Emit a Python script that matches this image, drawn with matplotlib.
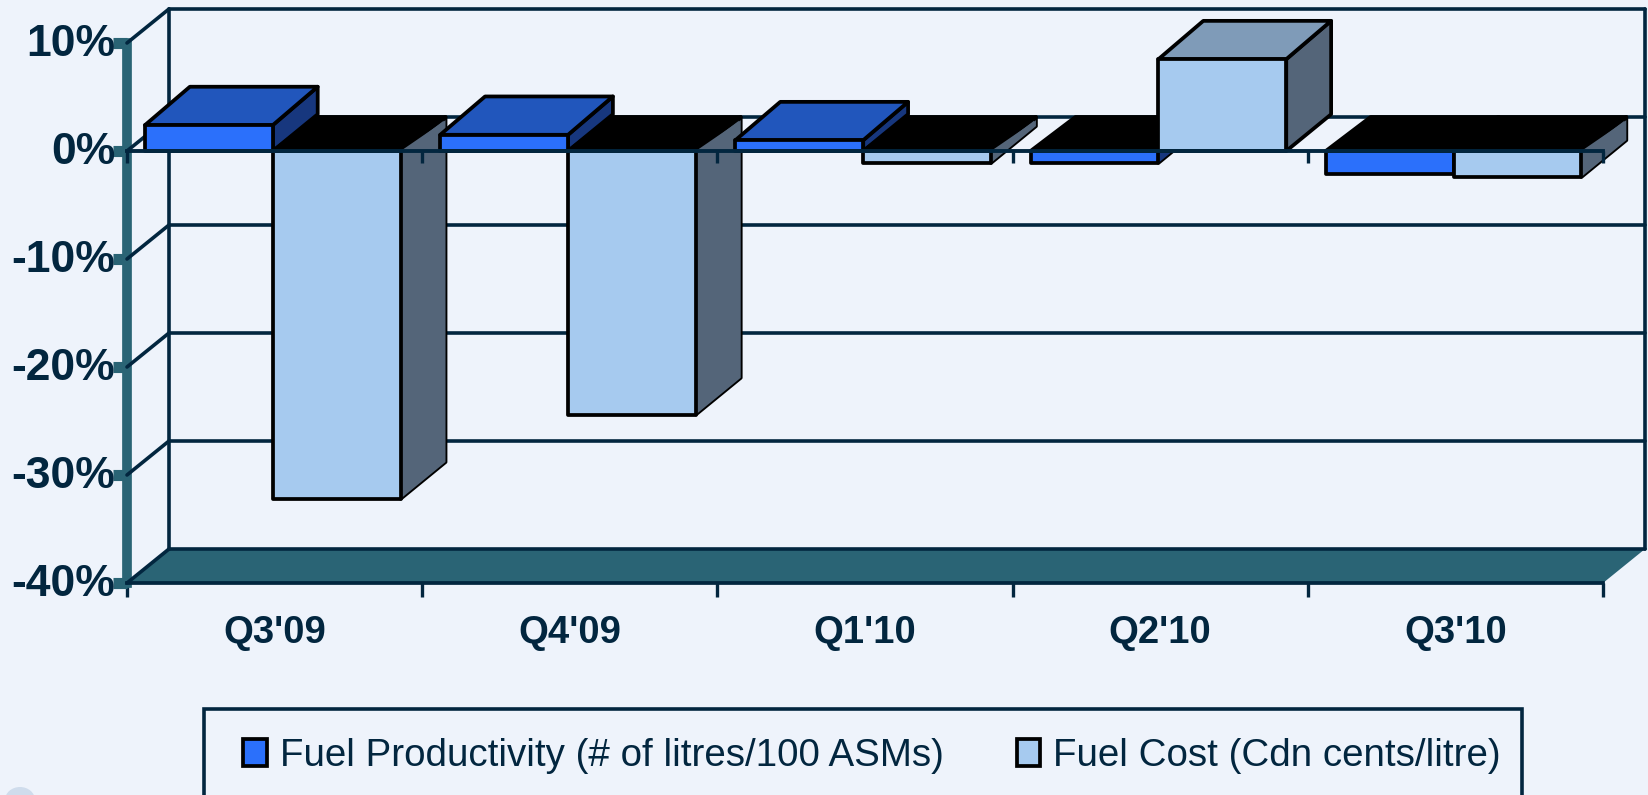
import matplotlib
matplotlib.use("Agg")
import matplotlib.pyplot as plt
from matplotlib.patches import Polygon, Rectangle, Patch, Ellipse
from matplotlib.transforms import ScaledTranslation

W, H = 1648, 795

quarters = ["Q3'09", "Q4'09", "Q1'10", "Q2'10", "Q3'10"]
productivity = [2.4, 1.5, 1.0, -1.1, -2.1]
fuel_cost = [-32.2, -24.4, -1.1, 8.5, -2.4]
y_ticks = [10, 0, -10, -20, -30, -40]
legend_labels = ["Fuel Productivity (# of litres/100 ASMs)", "Fuel Cost (Cdn cents/litre)"]

BG = "#eef3fb"
NAVY = "#02263f"
TEAL = "#2a6475"
BLUE = ("#2b70fb", "#2156bc", "#17377e")
LIGHT = ("#a6caef", "#7f9bb8", "#546579")

# depth of the fake 3d box, in data units
WALL_DX, WALL_DY = 0.1423, 3.15
BAR_DX, BAR_DY = 0.152, 3.4
POS_TOP_DY = 3.55
NEG_TOP_DY = 3.15
BAR_W = 0.433
BAR_OFF = 0.061

plt.rcParams['font.family'] = ['Liberation Sans', 'DejaVu Sans']

fig = plt.figure(figsize=(W / 100, H / 100), dpi=100, facecolor=BG)
ax = fig.add_axes([127 / W, 1 - 583 / H, 1476 / W, 540 / H])
ax.patch.set_visible(False)
ax.set_xlim(0, 5)
ax.set_ylim(-40, 10)


def poly(pts, color, edge=None, lw=2.7, z=1):
    p = Polygon(pts, closed=True, facecolor=color, edgecolor=edge if edge else 'none',
                linewidth=lw, joinstyle='round', clip_on=False, zorder=z)
    ax.add_patch(p)


def draw_bar(x0, value, colors):
    x1 = x0 + BAR_W
    front, top, side = colors
    if value > 0:
        dy = POS_TOP_DY
        poly([(x1, 0), (x1, value), (x1 + BAR_DX, value + dy), (x1 + BAR_DX, BAR_DY)], side, 'black', z=3)
        poly([(x0, value), (x1, value), (x1 + BAR_DX, value + dy), (x0 + BAR_DX, value + dy)], top, 'black', z=3)
    else:
        dy = NEG_TOP_DY
        poly([(x0, 0), (x1, 0), (x1 + BAR_DX, dy), (x0 + BAR_DX, dy)], 'black', 'black', z=3)
        poly([(x1, 0), (x1, value), (x1 + BAR_DX, value + BAR_DY), (x1 + BAR_DX, dy)], side, 'black', z=3)
        # no outline up against the black top
        poly([(x1, 0), (x1, value), (x1 + BAR_DX, value + BAR_DY), (x1 + BAR_DX, dy - 0.3)], side, z=3)
    poly([(x0, 0), (x1, 0), (x1, value), (x0, value)], front, 'black', z=3)


# back wall and grid
line_style = dict(color=NAVY, lw=2.6, clip_on=False, zorder=2, solid_capstyle='round')
poly([(0, -40), (5, -40), (5 + WALL_DX, -40 + WALL_DY), (WALL_DX, -40 + WALL_DY)], TEAL, z=1.5)
for t in y_ticks:
    back = t + WALL_DY
    ax.plot([WALL_DX, 5 + WALL_DX], [back, back], **line_style)
    ax.plot([0, WALL_DX], [t, back], **line_style)
for x in [WALL_DX, 5 + WALL_DX]:
    ax.plot([x, x], [-40 + WALL_DY, 10 + WALL_DY], **line_style)

# bars, left to right so later ones sit in front
for i in range(len(quarters)):
    draw_bar(i + BAR_OFF, productivity[i], BLUE)
    draw_bar(i + BAR_OFF + BAR_W, fuel_cost[i], LIGHT)

# zero line with its ticks goes over the bars
ax.plot([0, 5], [0, 0], color=NAVY, lw=2.8, clip_on=False, zorder=5)
ax.vlines(range(6), -1.1, 0, color=NAVY, lw=2.4, clip_on=False, zorder=5)

# axes
for s in ['top', 'right']:
    ax.spines[s].set_visible(False)
ax.spines['left'].set_color(TEAL)
ax.spines['left'].set_linewidth(7)
ax.spines['left'].set_zorder(1.8)
ax.spines['bottom'].set_color(NAVY)
ax.spines['bottom'].set_linewidth(2.7)

ax.set_yticks(y_ticks)
ax.set_yticklabels(["%d%%" % t for t in y_ticks])
ax.tick_params(axis='y', length=10, width=8, color=TEAL, pad=-1.5, labelsize=32, labelcolor=NAVY)
for lab in ax.get_yticklabels():
    lab.set_fontweight('bold')
    lab.set_transform(lab.get_transform() + ScaledTranslation(0, 3.5 / 100, fig.dpi_scale_trans))

ax.set_xticks(range(6))
ax.set_xticklabels([])
ax.set_xticks([i + 0.5 for i in range(5)], minor=True)
ax.set_xticklabels(quarters, minor=True, fontsize=27.5, fontweight='bold', color=NAVY)
ax.tick_params(axis='x', which='major', length=10, width=2.4, color=NAVY)
ax.tick_params(axis='x', which='minor', length=0, pad=23)

# legend box runs off the bottom of the page
fig.add_artist(Rectangle((204 / W, -5 / H), 1318 / W, (86 + 5) / H, transform=fig.transFigure,
                         facecolor='none', edgecolor=NAVY, linewidth=2.6))
fig.add_artist(Ellipse((20 / W, -5 / H), 30 / W, 26 / H, transform=fig.transFigure,
                       facecolor='#cfdcec', edgecolor='none'))
handles = [Patch(facecolor=BLUE[0], edgecolor='black', linewidth=2.7),
           Patch(facecolor=LIGHT[0], edgecolor='black', linewidth=2.7)]
fig.legend(handles, legend_labels, ncol=2, frameon=False, fontsize=27.7, labelcolor=NAVY,
           loc='center left', bbox_to_anchor=(243 / W, 1 - 756 / H), borderpad=0, borderaxespad=0,
           handlelength=0.62, handleheight=0.68, handletextpad=0.33, columnspacing=1.9)

fig.savefig("out.png", dpi=100, facecolor=BG)
